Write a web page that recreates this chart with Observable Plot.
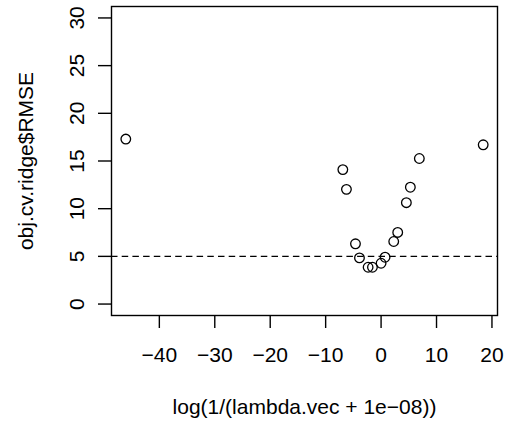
<!DOCTYPE html>
<html>
<head>
<meta charset="utf-8">
<script src="https://cdn.jsdelivr.net/npm/d3@7"></script>
<script src="https://cdn.jsdelivr.net/npm/@observablehq/plot@0.6"></script>
<style>
  html, body { margin: 0; padding: 0; background: #fff; }
  svg { display: block; }
</style>
</head>
<body>
<div id="chart"></div>
<script>
// Data
const logInvLambda = [-46.05, -6.9, -6.25, -4.62, -3.9, -2.34, -1.56, 0, 0.72, 2.28, 3.0, 4.56, 5.28, 6.9, 18.42];
const rmse = [17.3, 14.1, 12.03, 6.32, 4.84, 3.86, 3.86, 4.28, 4.91, 6.56, 7.51, 10.63, 12.25, 15.26, 16.7];
const xTicks = [-40, -30, -20, -10, 0, 10, 20];
const yTicks = [0, 5, 10, 15, 20, 25, 30];
const refLine = [5];
const xLabel = "log(1/(lambda.vec + 1e\u221208))";
const yLabel = "obj.cv.ridge$RMSE";

const points = logInvLambda.map((x, i) => ({x, y: rmse[i]}));

const font = "'Liberation Sans', Arial, Helvetica, sans-serif";

const chart = Plot.plot({
  width: 508,
  height: 428,
  marginLeft: 111,
  marginRight: 11,
  marginTop: 6,
  marginBottom: 113,
  style: {fontFamily: font, fontSize: "21px", color: "black", background: "white"},
  x: {domain: [-48.63, 21.0]},
  y: {domain: [-1.2, 31.2]},
  marks: [
    Plot.ruleY(refLine, {stroke: "black", strokeWidth: 1.3, strokeDasharray: "6.5,4.2"}),
    Plot.dot(points, {x: "x", y: "y", r: 4.8, stroke: "black", strokeWidth: 1.3, fill: "none"}),
    Plot.frame({stroke: "black", strokeWidth: 1.4}),
    Plot.axisX({
      ticks: xTicks, tickSize: 13, tickPadding: 19, strokeWidth: 1.4,
      fontSize: 21, label: xLabel, labelAnchor: "center", labelArrow: "none", labelOffset: 98
    }),
    Plot.axisY({
      ticks: yTicks, tickSize: 13, tickPadding: 15, tickRotate: -90, strokeWidth: 1.4,
      fontSize: 21, label: yLabel, labelAnchor: "center", labelArrow: "none", labelOffset: 93
    })
  ]
});

document.getElementById("chart").appendChild(chart);
</script>
</body>
</html>
